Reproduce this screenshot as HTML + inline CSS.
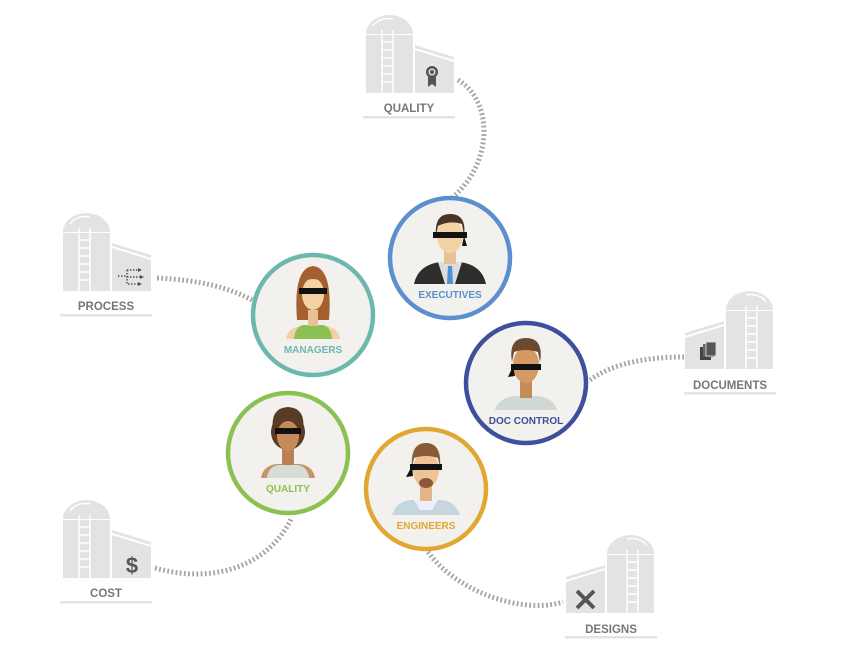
<!DOCTYPE html>
<html><head><meta charset="utf-8"><style>
html,body{margin:0;padding:0;background:#fff;}
svg{display:block;font-family:"Liberation Sans",sans-serif;}
</style></head><body>
<svg width="845" height="648" viewBox="0 0 845 648" xmlns="http://www.w3.org/2000/svg">
<defs>
<g id="silo">
  <path d="M3,22 A23.5,19 0 0 1 50,22 Z" fill="#e4e3e1"/>
  <path d="M10,14 A17,13 0 0 1 30,7" stroke="#fff" stroke-width="1.5" fill="none"/>
  <rect x="3" y="23" width="47" height="58" fill="#e4e3e1"/>
  <g stroke="#fff" stroke-width="1.5">
    <line x1="19" y1="18" x2="19" y2="81"/><line x1="30" y1="18" x2="30" y2="81"/>
    <line x1="19" y1="30" x2="30" y2="30"/><line x1="19" y1="38" x2="30" y2="38"/>
    <line x1="19" y1="46" x2="30" y2="46"/><line x1="19" y1="54" x2="30" y2="54"/>
    <line x1="19" y1="62" x2="30" y2="62"/><line x1="19" y1="70" x2="30" y2="70"/>
  </g>
  <polygon points="52,38 91,50 91,81 52,81" fill="#e4e3e1"/>
  <polygon points="52,33 91,45 91,48 52,36" fill="#e4e3e1"/>
  <rect x="0" y="104" width="92" height="2.5" fill="#e4e3e1"/>
</g>
</defs>

<!-- connectors -->
<g fill="none" stroke="#a5a5a5" stroke-width="5" stroke-dasharray="1.8 2.4">
  <path d="M458,80 C492,100 495,160 453,197"/>
  <path d="M157,278 C200,280 230,288 252,300"/>
  <path d="M590,380 C615,362 650,357 684,357"/>
  <path d="M155,568 C215,585 270,565 292,517"/>
  <path d="M428,552 C455,590 520,615 563,602"/>
</g>

<!-- silos -->
<g transform="translate(363,12)"><use href="#silo"/></g>
<text x="409" y="112" text-anchor="middle" font-size="11.5" font-weight="bold" fill="#777">QUALITY</text>
<g transform="translate(60,210)"><use href="#silo"/></g>
<text x="106" y="310" text-anchor="middle" font-size="11.5" font-weight="bold" fill="#777">PROCESS</text>
<g transform="translate(60,497)"><use href="#silo"/></g>
<text x="106" y="597" text-anchor="middle" font-size="11.5" font-weight="bold" fill="#777">COST</text>
<g transform="translate(776,288) scale(-1,1)"><use href="#silo"/></g>
<text x="730" y="389" text-anchor="middle" font-size="11.5" font-weight="bold" fill="#777">DOCUMENTS</text>
<g transform="translate(657,532) scale(-1,1)"><use href="#silo"/></g>
<text x="611" y="633" text-anchor="middle" font-size="11.5" font-weight="bold" fill="#777">DESIGNS</text>

<!-- silo icons -->
<g fill="#555">
  <circle cx="432" cy="72" r="6"/><circle cx="432" cy="72" r="3.5" fill="#e4e3e1"/><circle cx="432" cy="72" r="2" fill="#555"/>
  <polygon points="428,77 436,77 436,87 432,84 428,87"/>
</g>
<g fill="none" stroke="#555" stroke-width="1.5" stroke-dasharray="1.5 1.5">
  <path d="M118,276 H126 M127,270 H138 M127,270 V284 H138 M127,277 H140"/>
</g>
<g fill="#555"><polygon points="138,268 142,270 138,272"/><polygon points="140,275 144,277 140,279"/><polygon points="138,282 142,284 138,286"/></g>
<text x="132" y="573" text-anchor="middle" font-size="22" font-weight="bold" fill="#555">$</text>
<g fill="#555">
  <rect x="700" y="347" width="11" height="13" fill="#444"/>
  <rect x="703" y="344" width="11" height="13" fill="#666"/>
  <rect x="706" y="342" width="10" height="14" stroke="#e4e3e1" stroke-width="0.8"/>
</g>
<g stroke="#555" stroke-width="4"><line x1="577" y1="591" x2="594" y2="608"/><line x1="594" y1="591" x2="577" y2="608"/></g>

<!-- circles -->
<g stroke-width="4.5" fill="#f2f1ee">
  <circle cx="450" cy="258" r="60" stroke="#5b8fcf"/>
  <circle cx="313" cy="315" r="60" stroke="#6db8ae"/>
  <circle cx="526" cy="383" r="60" stroke="#3e4f9d"/>
  <circle cx="288" cy="453" r="60" stroke="#8bc153"/>
  <circle cx="426" cy="489" r="60" stroke="#e0a832"/>
</g>

<!-- executive -->
<path d="M414,284 Q418,265 440,262 L460,262 Q482,265 486,284 Z" fill="#2d2d2d"/>
<polygon points="438,262 462,262 455,284 445,284" fill="#ddd"/>
<polygon points="448,266 452,266 453,284 447,284" fill="#4f8fd6"/>
<rect x="444" y="250" width="12" height="14" fill="#e8c294"/>
<ellipse cx="450" cy="236" rx="13" ry="17" fill="#f3d2a6"/>
<path d="M436,236 Q434,214 450,214 Q467,214 464,236 L462,224 Q450,220 438,226 Z" fill="#4a3426"/>
<rect x="433" y="232" width="34" height="6" fill="#111"/>
<path d="M464,236 L467,246 L462,246 Z" fill="#111"/>
<text x="450" y="298" text-anchor="middle" font-size="10" font-weight="bold" fill="#5b8fcf">EXECUTIVES</text>

<!-- manager -->
<path d="M297,320 Q293,268 313,266 Q333,268 329,320 Z" fill="#a65f2e"/>
<path d="M286,339 Q288,328 300,326 L326,326 Q338,328 340,339 Z" fill="#f0d0a4"/>
<path d="M294,339 Q295,327 303,325 L323,325 Q331,327 332,339 Z" fill="#8bc153"/>
<rect x="308" y="310" width="10" height="16" fill="#e8c294"/>
<ellipse cx="313" cy="294" rx="11" ry="16" fill="#f3d2a6"/>
<path d="M301,290 Q302,270 313,270 Q324,270 325,290 L323,282 Q313,276 303,282 Z" fill="#a65f2e"/>
<rect x="299" y="288" width="28" height="6" fill="#111"/>
<text x="313" y="353" text-anchor="middle" font-size="10" font-weight="bold" fill="#6db8ae">MANAGERS</text>

<!-- doc control -->
<path d="M495,410 Q498,398 515,396 L537,396 Q554,398 557,410 Z" fill="#cfd8d4"/>
<rect x="520" y="380" width="12" height="18" fill="#c58c58"/>
<ellipse cx="526" cy="365" rx="13" ry="18" fill="#d49a62"/>
<path d="M512,362 Q508,338 526,338 Q544,338 540,362 L538,352 Q526,348 514,352 Z" fill="#6b4a30"/>
<rect x="511" y="364" width="30" height="6" fill="#111"/>
<path d="M513,366 L508,377 L515,376 Z" fill="#111"/>
<text x="526" y="424" text-anchor="middle" font-size="10" font-weight="bold" fill="#3e4f9d">DOC CONTROL</text>

<!-- quality person -->
<path d="M261,478 Q263,466 276,464 L300,464 Q313,466 315,478 Z" fill="#c89464"/>
<path d="M267,478 Q268,467 278,465 L298,465 Q308,467 309,478 Z" fill="#d8dcd8"/>
<rect x="282" y="448" width="12" height="17" fill="#b98054"/>
<ellipse cx="288" cy="432" rx="17" ry="18" fill="#5a3a24"/>
<ellipse cx="288" cy="436" rx="11" ry="15" fill="#c48a5a"/>
<path d="M273,430 Q270,408 288,407 Q306,408 303,430 L300,420 Q288,415 276,420 Z" fill="#5a3a24"/>
<rect x="275" y="428" width="26" height="6" fill="#111"/>
<text x="288" y="492" text-anchor="middle" font-size="10" font-weight="bold" fill="#8bc153">QUALITY</text>

<!-- engineer -->
<path d="M392,515 Q396,502 410,500 L442,500 Q456,502 460,515 Z" fill="#c5d6dd"/>
<polygon points="414,500 438,500 432,510 420,510" fill="#eef"/>
<rect x="420" y="486" width="12" height="15" fill="#e3b589"/>
<ellipse cx="426" cy="470" rx="13" ry="18" fill="#eec398"/>
<path d="M412,468 Q410,443 426,443 Q442,443 440,468 L438,458 Q426,454 414,458 Z" fill="#8b5a36"/>
<ellipse cx="426" cy="483" rx="7" ry="5" fill="#8b5a36"/>
<rect x="410" y="464" width="32" height="6" fill="#111"/>
<path d="M412,466 L406,477 L413,476 Z" fill="#111"/>
<text x="426" y="529" text-anchor="middle" font-size="10" font-weight="bold" fill="#e0a832">ENGINEERS</text>
</svg>
</body></html>
